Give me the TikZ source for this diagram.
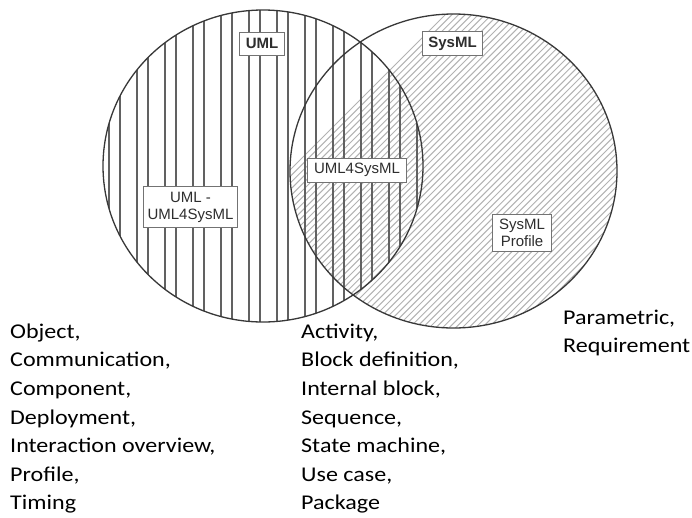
\documentclass[tikz,border=0pt]{standalone}
\usepackage{fontspec}
\newfontfamily\boxfont{Liberation Sans}
\newfontfamily\listfont[FakeStretch=1.145]{Carlito}
\begin{document}
\begin{tikzpicture}[x=1pt,y=-1pt,
  setrim/.style={draw=black!78,line width=1.3pt},
  vhatch/.style={draw=black!62,line width=1.2pt},
  dhatch/.style={draw=black!30,line width=1pt},
  tagbox/.style={draw=black!55,line width=0.9pt,fill=white,text=black!82,
    font=\boxfont\fontsize{15}{17}\selectfont,align=center,
    inner xsep=6pt,inner ysep=5pt},
  listtext/.style={anchor=north west,inner sep=0pt,align=left,text=black,
    font=\listfont\fontsize{21}{28.6}\selectfont}]
\useasboundingbox (0,0) rectangle (692,517);
\fill[white] (0,0) rectangle (692,517);

% centres of the two sets
\coordinate (umlc) at (263,166);
\coordinate (sysc) at (453.5,171);

% SysML: fine diagonal hatching
\begin{scope}
  \clip (sysc) ellipse [x radius=163.5pt, y radius=157pt];
  \foreach \c in {0,...,100}
    \draw[dhatch] ({120+6.6*\c},340) -- ({120+6.6*\c+340},0);
\end{scope}

% UML: paired vertical hatching
\begin{scope}
  \clip (umlc) ellipse [x radius=160pt, y radius=156pt];
  \foreach \k in {0,...,11}{
    \draw[vhatch] ({109+28*\k},0) -- ({109+28*\k},340);
    \draw[vhatch] ({120+28*\k},0) -- ({120+28*\k},340);
  }
\end{scope}

% set outlines
\draw[setrim] (umlc) ellipse [x radius=160pt, y radius=156pt];
\draw[setrim] (sysc) ellipse [x radius=163.5pt, y radius=157pt];

% labels of the regions
\node[tagbox,font=\boxfont\bfseries\fontsize{15}{17}\selectfont,minimum height=23pt] (umltag) at (262,43.5) {UML};
\node[tagbox,font=\boxfont\bfseries\fontsize{15}{17}\selectfont,minimum height=23pt] (systag) at (452.5,43.5) {SysML};
\node[tagbox,minimum height=24pt,inner xsep=7pt] (commontag) at (357,170) {UML4SysML};
\node[tagbox,inner xsep=4.5pt] (umlonlytag) at (190.5,207) {UML -\\UML4SysML};
\node[tagbox,inner xsep=7pt] (profiletag) at (522,233) {SysML\\Profile};

% diagram kinds in each part
\node[listtext] (umlonlylist) at (10,318) {\rule{0pt}{20pt}Object,\\Communication,\\Component,\\Deployment,\\Interaction overview,\\Profile,\\Timing};
\node[listtext] (commonlist) at (301,318) {\rule{0pt}{20pt}Activity,\\Block definition,\\Internal block,\\Sequence,\\State machine,\\Use case,\\Package};
\node[listtext] (profilelist) at (563,304) {\rule{0pt}{20pt}Parametric,\\Requirement};
\end{tikzpicture}
\end{document}
